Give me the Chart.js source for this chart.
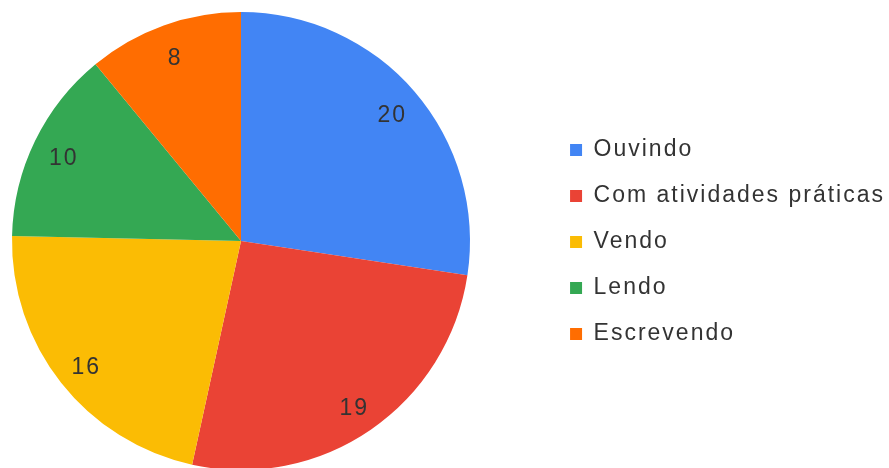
<!DOCTYPE html>
<html>
<head>
<meta charset="utf-8">
<script src="https://cdn.jsdelivr.net/npm/chart.js@4.4.0/dist/chart.umd.min.js"></script>
<style>
    html, body { margin: 0; padding: 0; background: #ffffff; }
    #wrap { width: 889px; height: 468px; position: relative; }
</style>
</head>
<body>
<div id="wrap"><canvas id="chartPizza"></canvas></div>
<script>
// Dados do gráfico
const categorias = ['Ouvindo', 'Com atividades práticas', 'Vendo', 'Lendo', 'Escrevendo'];
const valores = [20, 19, 16, 10, 8];
const cores = ['#4285F4', '#EA4335', '#FBBC04', '#34A853', '#FF6D01'];

const FONTE = "'Liberation Sans', Arial, sans-serif";
const ESPACO = '2px';
const COR_TEXTO = '#333333';

// espaçamento entre letras (o texto original é um pouco "esticado")
const letterSpacingPlugin = {
    id: 'letterSpacing',
    beforeUpdate(chart) { chart.ctx.letterSpacing = ESPACO; },
    beforeDraw(chart) { chart.ctx.letterSpacing = ESPACO; }
};

// Área da pizza: círculo à esquerda, legenda fica à direita
const areaPizzaPlugin = {
    id: 'areaPizza',
    afterLayout(chart) {
        const a = chart.chartArea;
        a.left = 12; a.right = 470; a.width = 458;
        a.top = 12; a.bottom = 470; a.height = 458;
        // empurra a legenda um pouco para a direita
        chart.legend.left += 6;
        chart.legend.right += 6;
    }
};

// Rótulos de valor dentro das fatias
const rotulosPlugin = {
    id: 'rotulos',
    afterDatasetsDraw(chart) {
        const ctx = chart.ctx;
        const meta = chart.getDatasetMeta(0);
        ctx.save();
        ctx.letterSpacing = ESPACO;
        ctx.font = '23px ' + FONTE;
        ctx.fillStyle = COR_TEXTO;
        ctx.textAlign = 'center';
        ctx.textBaseline = 'middle';
        meta.data.forEach((arc, i) => {
            const p = arc.getProps(['x', 'y', 'startAngle', 'endAngle', 'outerRadius'], true);
            const meio = (p.startAngle + p.endAngle) / 2;
            const r = p.outerRadius * 0.865;
            ctx.fillText(String(valores[i]), p.x + Math.cos(meio) * r + 1, p.y + Math.sin(meio) * r + 4);
        });
        ctx.restore();
    }
};

new Chart(document.getElementById('chartPizza'), {
    type: 'pie',
    data: {
        labels: categorias,
        datasets: [{
            data: valores,
            backgroundColor: cores,
            borderWidth: 0,
            clip: false
        }]
    },
    options: {
        responsive: true,
        maintainAspectRatio: false,
        animation: false,
        events: [],
        layout: {
            padding: { top: 16, bottom: 0, left: 0, right: 0 }
        },
        plugins: {
            legend: {
                display: true,
                position: 'right',
                align: 'center',
                labels: {
                    boxWidth: 12,
                    boxHeight: 12,
                    padding: 23,
                    color: COR_TEXTO,
                    font: { family: FONTE, size: 23 }
                }
            },
            tooltip: { enabled: false }
        }
    },
    plugins: [letterSpacingPlugin, areaPizzaPlugin, rotulosPlugin]
});
</script>
</body>
</html>
